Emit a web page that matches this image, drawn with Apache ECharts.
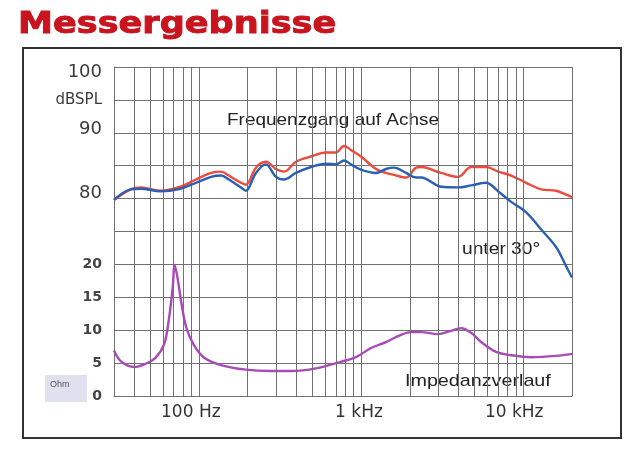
<!DOCTYPE html>
<html>
<head>
<meta charset="utf-8">
<script src="https://cdn.jsdelivr.net/npm/echarts@6/dist/echarts.min.js"></script>
<style>
html,body{margin:0;padding:0;background:#fff;}
#chart{width:640px;height:451px;}
</style>
</head>
<body>
<div id="chart"></div>
<script>
// ---- data ----
const splFreq = [30, 38, 44, 58, 77, 96, 119, 137, 153, 182, 195, 225, 259, 299, 335, 397, 491, 608, 701, 785, 867, 1000, 1238, 1426, 1599, 1896, 2186, 2346, 3117, 3970, 4777, 5911, 7015, 8433, 10440, 12920, 15990, 18420, 20000];
const splOnAxis = [79.8, 81.4, 81.7, 81.2, 81.8, 82.9, 83.9, 84.1, 83.5, 82.4, 82.1, 84.7, 85.6, 84.5, 84.1, 85.6, 86.4, 87.0, 87.0, 88.0, 87.4, 86.4, 84.5, 83.9, 83.6, 83.2, 84.7, 84.8, 83.9, 83.3, 84.8, 84.8, 84.1, 83.5, 82.4, 81.4, 81.2, 80.6, 80.2];
const spl30deg = [79.8, 81.4, 81.5, 81.1, 81.5, 82.4, 83.3, 83.5, 82.9, 81.7, 81.2, 83.9, 85.2, 83.3, 82.9, 83.9, 84.8, 85.3, 85.2, 85.8, 85.2, 84.4, 83.9, 84.5, 84.7, 83.9, 83.2, 83.2, 81.8, 81.7, 82.0, 82.4, 81.1, 79.5, 77.9, 75.3, 72.6, 69.7, 68.0];
const impFreq = [30, 33, 40, 47, 54, 61, 65, 69, 71, 74, 78.5, 84, 93, 107, 137, 195, 278, 370, 528, 753, 931, 1153, 1426, 1766, 2036, 2346, 2987, 3594, 4140, 4777, 5504, 6812, 8433, 11200, 15990, 20000];
const impOhm = [6.9, 5.3, 4.4, 4.9, 5.8, 7.8, 11.2, 16.4, 19.9, 17.9, 13.8, 10.3, 7.8, 5.9, 4.7, 4.0, 3.8, 3.8, 4.2, 5.2, 5.9, 7.3, 8.2, 9.3, 9.7, 9.7, 9.4, 9.9, 10.3, 9.6, 8.2, 6.7, 6.2, 5.9, 6.1, 6.4];
const minorGridFreqs = [40, 50, 60, 70, 80, 90, 200, 300, 400, 500, 600, 700, 800, 900, 2000, 3000, 4000, 5000, 6000, 7000, 8000, 9000, 20000];
const xTickLabels = {100: '{a|100 Hz}', 1000: '{b|1 kHz}', 10000: '{c|10 kHz}'};
const dbTickLabels = {100: '{a|100}', 95: '{s|dBSPL}', 90: '{b|90}', 80: '{c|80}'};
const ohmTickLabels = [0, 5, 10, 15, 20];
const titleText = 'Messergebnisse';

const gridColor = '#707070';
const chart = echarts.init(document.getElementById('chart'), null, {renderer: 'canvas'});

function zip(xs, ys) { return xs.map((x, i) => [x, ys[i]]); }

const option = {
  animation: false,
  backgroundColor: '#ffffff',
  grid: {left: 114, right: 68, top: 67, bottom: 55, containLabel: false},
  xAxis: {
    type: 'log', logBase: 10, min: 30, max: 20000,
    axisLine: {show: true, lineStyle: {color: gridColor, width: 1}},
    axisTick: {show: false},
    splitLine: {show: true, lineStyle: {color: gridColor, width: 1}},
    axisLabel: {
      margin: 8, fontFamily: 'DejaVu Sans', fontSize: 17, color: '#333',
      showMinLabel: false, showMaxLabel: false,
      formatter: v => xTickLabels[Math.round(v)] || '',
      rich: {
        a: {fontFamily: 'DejaVu Sans', fontSize: 17, color: '#333', padding: [0, 16, 0, 0]},
        b: {fontFamily: 'DejaVu Sans', fontSize: 17, color: '#333', padding: [0, 4, 0, 0]},
        c: {fontFamily: 'DejaVu Sans', fontSize: 17, color: '#333', padding: [0, 18, 0, 0]}
      }
    }
  },
  yAxis: [
    {
      type: 'value', min: 50, max: 100, interval: 5, position: 'left',
      axisLine: {show: true, lineStyle: {color: gridColor, width: 1}},
      axisTick: {show: false},
      splitLine: {show: true, lineStyle: {color: gridColor, width: 1}},
      axisLabel: {
        margin: 12, color: '#333',
        formatter: v => dbTickLabels[Math.round(v)] || '',
        rich: {
          a: {fontFamily: 'DejaVu Sans', fontSize: 18, color: '#3a3a3a', padding: [10, 0, 0, 0]},
          s: {fontFamily: 'DejaVu Sans', fontSize: 15, color: '#3a3a3a'},
          b: {fontFamily: 'DejaVu Sans', fontSize: 18, color: '#3a3a3a', padding: [0, 0, 6, 0]},
          c: {fontFamily: 'DejaVu Sans', fontSize: 18, color: '#3a3a3a', padding: [0, 0, 10, 0]}
        }
      }
    },
    {
      type: 'value', min: 0, max: 50, interval: 5, position: 'left', offset: 0,
      axisLine: {show: false}, axisTick: {show: false}, splitLine: {show: false},
      axisLabel: {
        margin: 12, fontFamily: 'DejaVu Sans', fontWeight: 'bold', fontSize: 14, color: '#444',
        formatter: v => ohmTickLabels.indexOf(Math.round(v)) >= 0 ? String(Math.round(v)) : ''
      }
    }
  ],
  series: [
    {
      name: 'grid', type: 'line', data: [], z: 1, silent: true,
      markLine: {
        silent: true, symbol: ['none', 'none'], animation: false,
        label: {show: false},
        lineStyle: {color: gridColor, width: 1, type: 'solid'},
        emphasis: {disabled: true},
        data: minorGridFreqs.map(f => ({xAxis: f}))
      }
    },
    {
      name: 'Frequenzgang auf Achse', type: 'line', yAxisIndex: 0, z: 4,
      data: zip(splFreq, splOnAxis), showSymbol: false, smooth: 0.35,
      lineStyle: {color: '#ef4a3c', width: 2.4}
    },
    {
      name: 'unter 30°', type: 'line', yAxisIndex: 0, z: 5,
      data: zip(splFreq, spl30deg), showSymbol: false, smooth: 0.35,
      lineStyle: {color: '#2b5fb2', width: 2.4}
    },
    {
      name: 'Impedanzverlauf', type: 'line', yAxisIndex: 1, z: 4,
      data: zip(impFreq, impOhm), showSymbol: false, smooth: 0.35,
      lineStyle: {color: '#a94ab9', width: 2.4}
    }
  ],
  graphic: [
    {type: 'rect', shape: {x: 23, y: 48, width: 598, height: 390}, style: {fill: 'none', stroke: '#333', lineWidth: 2}, z: 0},
    {type: 'text', x: 18, y: 25, scaleX: 1.17, style: {text: titleText, fontFamily: 'DejaVu Sans', fontWeight: 'bold', fontSize: 30, fill: '#c8141e', stroke: '#c8141e', lineWidth: 0.9, textAlign: 'left', textVerticalAlign: 'middle'}},
    {type: 'rect', shape: {x: 45, y: 375, width: 42, height: 27}, style: {fill: '#dfe1ef'}, z: 0},
    {type: 'text', x: 50, y: 385, style: {text: 'Ohm', fontFamily: 'Liberation Sans', fontSize: 9, fill: '#555', textAlign: 'left', textVerticalAlign: 'middle'}},
    {type: 'text', x: 227, y: 120, scaleX: 1.15, style: {text: 'Frequenzgang auf Achse', fontFamily: 'Liberation Sans', fontSize: 16.5, fill: '#222', textAlign: 'left', textVerticalAlign: 'middle'}},
    {type: 'text', x: 462, y: 249, scaleX: 1.13, style: {text: 'unter 30°', fontFamily: 'Liberation Sans', fontSize: 17, fill: '#222', textAlign: 'left', textVerticalAlign: 'middle'}},
    {type: 'text', x: 405, y: 381, scaleX: 1.16, style: {text: 'Impedanzverlauf', fontFamily: 'Liberation Sans', fontSize: 17, fill: '#222', textAlign: 'left', textVerticalAlign: 'middle'}}
  ]
};
chart.setOption(option);
</script>
</body>
</html>
